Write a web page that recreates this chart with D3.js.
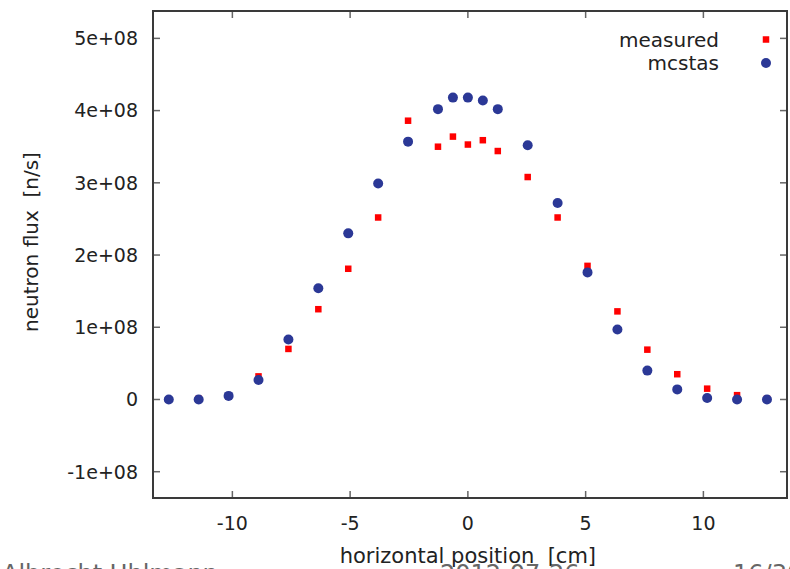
<!DOCTYPE html>
<html>
<head>
<meta charset="utf-8">
<script src="https://cdn.jsdelivr.net/npm/d3@7"></script>
<style>
    body { margin: 0; background: #fff; }
    svg text { font-family: "DejaVu Sans", sans-serif; fill: #222; white-space: pre; }
</style>
</head>
<body>
<div id="plot"></div>
<script>
// horizontal scan positions [cm] (half-inch steps, finer near the centre)
const xPositions = [-12.7, -11.43, -10.16, -8.89, -7.62, -6.35, -5.08, -3.81, -2.54, -1.27, -0.635, 0,
    0.635, 1.27, 2.54, 3.81, 5.08, 6.35, 7.62, 8.89, 10.16, 11.43, 12.7];

// measured flux [n/s]
const measuredFlux = [0.00e8, 0.01e8, 0.04e8, 0.32e8, 0.70e8, 1.25e8, 1.81e8, 2.52e8, 3.86e8, 3.50e8, 3.64e8, 3.53e8,
    3.59e8, 3.44e8, 3.08e8, 2.52e8, 1.85e8, 1.22e8, 0.69e8, 0.35e8, 0.15e8, 0.06e8, 0.01e8];

// mcstas simulation flux [n/s]
const mcstasFlux = [0.00e8, 0.00e8, 0.05e8, 0.27e8, 0.83e8, 1.54e8, 2.30e8, 2.99e8, 3.57e8, 4.02e8, 4.18e8, 4.18e8,
    4.14e8, 4.02e8, 3.52e8, 2.72e8, 1.76e8, 0.97e8, 0.40e8, 0.14e8, 0.02e8, 0.00e8, 0.00e8];

const xTicks = [-10, -5, 0, 5, 10];
const yTicks = [-1e8, 0, 1e8, 2e8, 3e8, 4e8, 5e8];
const yTickLabels = ["-1e+08", "0", "1e+08", "2e+08", "3e+08", "4e+08", "5e+08"];
const seriesNames = ["measured", "mcstas"];

const footerTexts = ["Albrecht Uhlmann", "2012-07-26", "16/30"];

const width = 790, height = 569;
const margin = { top: 11, right: 3, bottom: 71, left: 153 };
const innerWidth = width - margin.left - margin.right;
const innerHeight = height - margin.top - margin.bottom;

const svg = d3.select("#plot").append("svg")
    .attr("width", width)
    .attr("height", height);

svg.append("rect").attr("width", width).attr("height", height).attr("fill", "#fff");

const g = svg.append("g").attr("transform", `translate(${margin.left},${margin.top})`);

const x = d3.scaleLinear().domain([-13.37, 13.55]).range([0, innerWidth]);
const y = d3.scaleLinear().domain([-1.364e8, 5.379e8]).range([innerHeight, 0]);

// inward ticks on all four sides, labels drawn separately
const tickLen = 7;
const tickColor = "#666";

g.selectAll(".xtick-bottom").data(xTicks).enter().append("line")
    .attr("x1", d => x(d)).attr("x2", d => x(d))
    .attr("y1", innerHeight).attr("y2", innerHeight - tickLen)
    .attr("stroke", tickColor).attr("stroke-width", 1.5);

g.selectAll(".xtick-top").data(xTicks).enter().append("line")
    .attr("x1", d => x(d)).attr("x2", d => x(d))
    .attr("y1", 0).attr("y2", tickLen)
    .attr("stroke", tickColor).attr("stroke-width", 1.5);

g.selectAll(".ytick-left").data(yTicks).enter().append("line")
    .attr("x1", 0).attr("x2", tickLen)
    .attr("y1", d => y(d)).attr("y2", d => y(d))
    .attr("stroke", tickColor).attr("stroke-width", 1.5);

g.selectAll(".ytick-right").data(yTicks).enter().append("line")
    .attr("x1", innerWidth).attr("x2", innerWidth - tickLen)
    .attr("y1", d => y(d)).attr("y2", d => y(d))
    .attr("stroke", tickColor).attr("stroke-width", 1.5);

// tick labels
g.selectAll(".xlabel").data(xTicks).enter().append("text")
    .attr("x", d => x(d))
    .attr("y", innerHeight + 32)
    .attr("text-anchor", "middle")
    .attr("font-size", 19)
    .text(d => d);

g.selectAll(".ylabel").data(yTicks).enter().append("text")
    .attr("x", -15)
    .attr("y", d => y(d))
    .attr("dy", "0.36em")
    .attr("text-anchor", "end")
    .attr("font-size", 19)
    .text((d, i) => yTickLabels[i]);

// frame
g.append("rect")
    .attr("width", innerWidth).attr("height", innerHeight)
    .attr("fill", "none").attr("stroke", "#3a3a3a").attr("stroke-width", 2);

// axis titles
svg.append("text")
    .attr("x", margin.left + x(0))
    .attr("y", 563)
    .attr("text-anchor", "middle")
    .attr("font-size", 21)
    .text("horizontal position  [cm]");

svg.append("text")
    .attr("transform", "translate(38,242) rotate(-90)")
    .attr("text-anchor", "middle")
    .attr("font-size", 20)
    .text("neutron flux  [n/s]");

// data points: measured squares, mcstas circles on top
const sq = 6.5;
g.selectAll(".measured").data(xPositions).enter().append("rect")
    .attr("x", d => x(d) - sq / 2)
    .attr("y", (d, i) => y(measuredFlux[i]) - sq / 2)
    .attr("width", sq).attr("height", sq)
    .attr("fill", "#f00");

g.selectAll(".mcstas").data(xPositions).enter().append("circle")
    .attr("cx", d => x(d))
    .attr("cy", (d, i) => y(mcstasFlux[i]))
    .attr("r", 5)
    .attr("fill", "#2b3896");

// legend
const legend = svg.append("g");
legend.append("text").attr("x", 719).attr("y", 47)
    .attr("text-anchor", "end").attr("font-size", 20).text(seriesNames[0]);
legend.append("text").attr("x", 719).attr("y", 70)
    .attr("text-anchor", "end").attr("font-size", 20).text(seriesNames[1]);
legend.append("rect").attr("x", 766 - sq / 2).attr("y", 39.5 - sq / 2)
    .attr("width", sq).attr("height", sq).attr("fill", "#f00");
legend.append("circle").attr("cx", 766).attr("cy", 63).attr("r", 5).attr("fill", "#2b3896");

// slide footer, cut off at the bottom edge
svg.selectAll(".footer").data(footerTexts).enter().append("text")
    .attr("x", (d, i) => [2, 440, 733][i])
    .attr("y", 582)
    .attr("font-size", 24)
    .style("fill", "#666")
    .text(d => d);
</script>
</body>
</html>
